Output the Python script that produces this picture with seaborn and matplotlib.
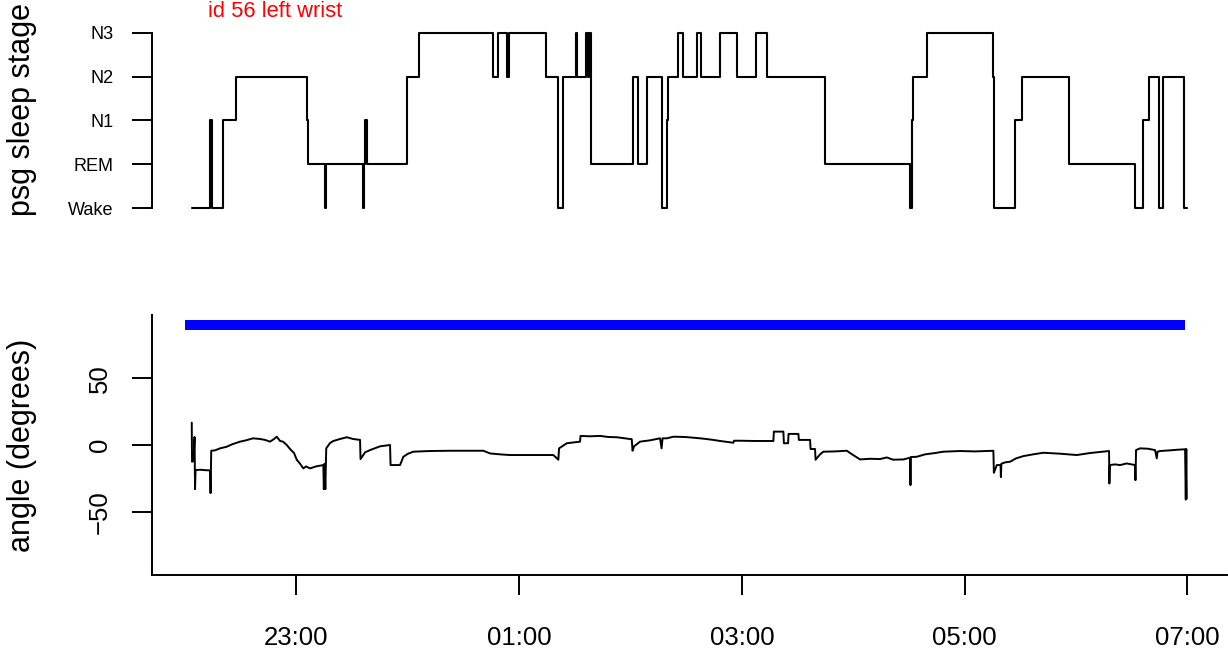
import numpy as np
import pandas as pd
import matplotlib
matplotlib.use("Agg")
import matplotlib.pyplot as plt
import matplotlib.dates as mdates
import seaborn as sns

# ---------------- data ----------------
stage_labels = ["Wake", "REM", "N1", "N2", "N3"]

# hypnogram: start of each stage, minutes after 22:00
stage_start_min = [3.6, 13.7, 14.3, 20.6, 27.5, 65.6, 66.1, 75.5, 76.0, 95.9,
                   96.4, 97.2, 97.8, 119.4, 126.2, 165.8, 168.4, 173.6, 174.7, 194.5,
                   201.1, 203.8, 210.6, 211.4, 216.0, 217.1, 217.6, 218.6, 241.2, 243.9,
                   248.7, 256.8, 259.5, 259.9, 265.7, 268.1, 275.7, 278.0, 288.2, 297.2,
                   307.4, 313.4, 344.8, 390.6, 391.8, 392.3, 399.6, 435.1, 436.0, 447.1,
                   450.7, 476.2, 511.8, 516.2, 519.3, 524.7, 526.7, 538.3, 540.0]
stage_seq = ["Wake", "N1", "Wake", "N1", "N2", "N1", "REM", "Wake", "REM", "Wake",
             "REM", "N1", "REM", "N2", "N3", "N2", "N3", "N2", "N3", "N2",
             "Wake", "N2", "N3", "N2", "N3", "N2", "N3", "REM", "N2", "REM",
             "N2", "Wake", "N1", "N2", "N3", "N2", "N3", "N2", "N3", "N2",
             "N3", "N2", "REM", "Wake", "N1", "N2", "N3", "N2", "Wake", "N1",
             "N2", "REM", "Wake", "N1", "N2", "Wake", "N2", "Wake", "Wake"]

# wrist angle: minutes after 22:00 and degrees
angle_min = [3.61, 3.77, 4.58, 5.12, 5.39, 5.66, 8.08, 10.77, 13.47, 13.74,
             14.11, 16.16, 18.85, 22.46, 25.32, 29.63, 32.86, 36.63, 40.40, 43.10,
             45.79, 47.95, 49.40, 51.18, 52.79, 54.79, 56.56, 58.72, 60.17, 61.95,
             63.73, 65.18, 67.34, 70.57, 74.50, 74.77, 75.15, 75.58, 76.06, 78.11,
             79.89, 83.50, 87.11, 90.50, 94.27, 94.54, 96.97, 99.66, 105.05, 110.44,
             110.71, 115.82, 117.60, 120.13, 122.99, 131.98, 142.76, 153.53, 160.70, 164.31,
             169.69, 175.08, 185.85, 198.41, 201.10, 201.48, 205.63, 210.10, 212.79, 213.06,
             218.18, 223.57, 227.88, 232.56, 237.03, 240.64, 241.07, 241.88, 245.12, 250.51,
             255.89, 256.70, 257.24, 259.50, 263.06, 269.36, 277.44, 280.67, 284.60, 288.21,
             295.38, 295.75, 298.99, 307.07, 316.93, 317.20, 322.32, 322.59, 324.85, 325.12,
             330.40, 330.67, 336.70, 336.97, 339.39, 339.66, 342.09, 343.86, 350.17, 356.47,
             359.33, 363.64, 369.02, 374.41, 378.02, 381.41, 386.96, 390.57, 390.79, 391.00,
             394.18, 398.65, 404.04, 408.51, 417.51, 425.59, 435.45, 435.72, 437.28, 439.33,
             439.49, 439.76, 441.75, 444.44, 447.68, 451.61, 456.83, 462.38, 471.38, 480.37,
             487.54, 497.77, 497.93, 498.20, 501.00, 503.69, 507.30, 511.77, 511.99, 512.31,
             514.47, 518.78, 522.55, 523.46, 523.89, 525.24, 530.63, 534.94, 538.72, 539.10,
             539.37, 539.64]
angle_deg = [16.7, -12.5, -12.0, 6.0, -33.0, -18.8, -18.5, -18.8, -19.0, -36.0,
             -4.3, -4.0, -2.5, -1.3, 0.5, 2.5, 3.5, 5.0, 4.5, 3.8,
             2.5, 4.5, 6.2, 3.0, 2.5, 0.0, -3.0, -6.0, -11.0, -14.0,
             -17.5, -16.0, -17.5, -16.0, -15.0, -33.0, -14.0, -33.0, -2.5, 1.5,
             3.0, 4.5, 5.8, 4.5, 3.8, -10.5, -5.5, -3.8, -1.0, 0.0,
             -15.0, -15.0, -8.8, -6.5, -5.0, -4.5, -4.3, -4.3, -4.3, -6.3,
             -7.0, -7.5, -7.5, -7.5, -11.0, -2.5, 1.3, 2.0, 2.5, 6.8,
             6.5, 6.8, 6.0, 5.8, 5.0, 4.3, -4.3, -1.0, 2.5, 3.5,
             5.0, -2.5, 5.0, 5.0, 6.2, 6.0, 5.0, 4.5, 3.8, 3.0,
             1.7, 3.2, 3.2, 3.0, 3.0, 10.0, 10.0, 1.3, 1.3, 8.3,
             8.3, 3.8, 3.8, -3.0, -3.0, -11.0, -7.0, -5.0, -4.8, -4.3,
             -7.0, -10.8, -10.3, -10.5, -9.3, -11.0, -10.8, -9.5, -30.0, -9.0,
             -8.8, -7.0, -6.0, -5.0, -4.5, -4.8, -4.3, -20.8, -15.0, -15.0,
             -24.0, -14.0, -13.0, -12.5, -10.0, -8.3, -7.0, -5.8, -6.5, -7.5,
             -6.0, -4.5, -28.8, -15.0, -14.5, -15.0, -13.8, -15.0, -26.3, -3.8,
             -2.5, -2.8, -3.8, -10.0, -5.0, -4.5, -4.0, -3.5, -3.2, -40.8,
             -3.0, -40.0]

# blue reference bar (minutes after 22:00, degrees)
bar_min = [0.0, 538.7]
bar_deg = [90.0, 90.0]

title_text = "id 56 left wrist"
y_label_top = "psg sleep stage"
y_label_bottom = "angle (degrees)"

# ---------------- build frames ----------------
base = pd.Timestamp("2020-01-01 22:00")
to_time = lambda m: base + pd.to_timedelta(np.asarray(m, dtype=float), unit="m")

hyp = pd.DataFrame({"time": to_time(stage_start_min),
                    "stage": [stage_labels.index(s) for s in stage_seq]})
ang = pd.DataFrame({"time": to_time(angle_min), "angle": angle_deg})
bar = pd.DataFrame({"time": to_time(bar_min), "angle": bar_deg})

# ---------------- style ----------------
sns.set_theme(style="white")
plt.rcParams["font.family"] = ["Liberation Sans", "DejaVu Sans"]
plt.rcParams["axes.linewidth"] = 1.4

W, H = 1228, 652
fig = plt.figure(figsize=(W / 100, H / 100), dpi=100)
ax_top = fig.add_axes([152 / W, 1 - 216 / H, 1075 / W, 213 / H])
ax_bot = fig.add_axes([152 / W, 1 - 575 / H, 1075 / W, 260 / H])

xlim = (base + pd.Timedelta(minutes=-17.8), base + pd.Timedelta(minutes=561.3))

# ---- top: hypnogram ----
sns.lineplot(data=hyp, x="time", y="stage", ax=ax_top, color="black",
             linewidth=1.5, drawstyle="steps-post", estimator=None, sort=False)
ax_top.set_xlim(*xlim)
ax_top.set_ylim(-0.18, 4.68)
ax_top.set_yticks(range(len(stage_labels)))
ax_top.set_yticklabels(stage_labels)
ax_top.set_xticks([])
ax_top.set_xlabel("")
for s in ["top", "right", "bottom"]:
    ax_top.spines[s].set_visible(False)
ax_top.spines["left"].set_bounds(0, len(stage_labels) - 1)
ax_top.spines["left"].set_color("black")
ax_top.tick_params(axis="y", direction="out", length=14.4, width=1.4,
                   labelsize=13, pad=13.5, colors="black", left=True)
ax_top.set_ylabel(y_label_top, fontsize=22, color="black")
ax_top.yaxis.set_label_coords(-0.107, 0.5)
ax_top.text(base + pd.Timedelta(minutes=48.5), 4.48, title_text, color="red",
            fontsize=15.8, ha="center", va="center")

# ---- bottom: angle ----
sns.lineplot(data=bar, x="time", y="angle", ax=ax_bot, color="blue",
             linewidth=7.2, estimator=None, sort=False, solid_capstyle="butt")
sns.lineplot(data=ang, x="time", y="angle", ax=ax_bot, color="black",
             linewidth=1.4, estimator=None, sort=False)
ax_bot.set_xlim(*xlim)
ax_bot.set_ylim(-97.2, 97.2)
ax_bot.set_yticks([-50, 0, 50])
ax_bot.xaxis.set_major_locator(mdates.HourLocator(byhour=[23, 1, 3, 5, 7]))
ax_bot.xaxis.set_major_formatter(mdates.DateFormatter("%H:%M"))
for s in ["top", "right"]:
    ax_bot.spines[s].set_visible(False)
for s in ["left", "bottom"]:
    ax_bot.spines[s].set_color("black")
ax_bot.tick_params(axis="both", direction="out", length=14.4, width=1.4,
                   labelsize=18.5, colors="black", left=True, bottom=True)
ax_bot.tick_params(axis="x", pad=22)
ax_bot.tick_params(axis="y", pad=14.4)
for lab in ax_bot.get_yticklabels():
    lab.set_rotation(90)
    lab.set_va("center")
ax_bot.set_xlabel("")
ax_bot.set_ylabel(y_label_bottom, fontsize=22, color="black")
ax_bot.yaxis.set_label_coords(-0.107, 0.5)

fig.savefig("out.png", dpi=100, facecolor="white")
